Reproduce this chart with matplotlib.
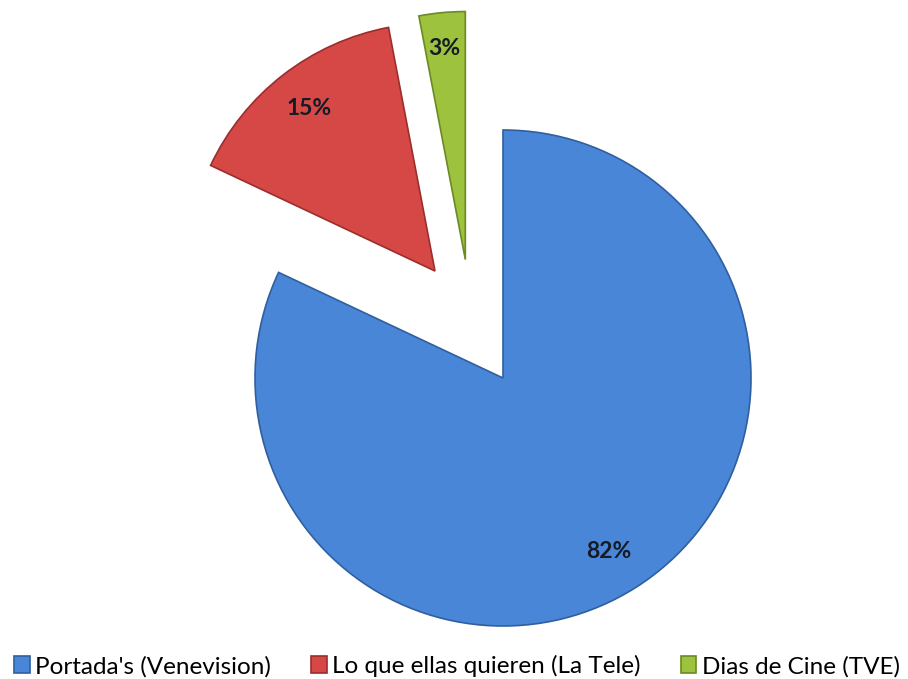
import numpy as np
import matplotlib.pyplot as plt

# datos del grafico
programas = ["Portada's (Venevision)", "Lo que ellas quieren (La Tele)", "Dias de Cine (TVE)"]
porcentajes = [82, 15, 3]

# estilo
separacion = [0.0, 0.5, 0.5]
ajuste_px = [(0, 0), (8, 9), (-26, -5)]   # pequeno ajuste de la separacion (px)
colores = ["#4a86d8", "#d64845", "#9dc23e"]
bordes = ["#2f5f9e", "#9a2e2c", "#6a8a24"]
plt.rcParams['font.family'] = ['Lato', 'DejaVu Sans']

fig = plt.figure(figsize=(9.08, 6.79), dpi=100)
ax = fig.add_axes([0, 0, 1, 1])

wedges, texts, autotexts = ax.pie(porcentajes, explode=separacion, colors=colores,
                                  startangle=90, counterclock=False,
                                  autopct='%d%%', pctdistance=0.83,
                                  wedgeprops=dict(linewidth=1.2),
                                  textprops=dict(fontsize=16.5, fontweight='bold', color='#141a26'))

# radio de 248 px, centro en (503, 378)
R = 248.0
for w, t, b, (dx, dy) in zip(wedges, autotexts, bordes, ajuste_px):
    w.set_edgecolor(b)
    cx, cy = w.center
    w.set_center((cx + dx / R, cy + dy / R))
    tx, ty = t.get_position()
    t.set_position((tx + dx / R, ty + dy / R))
# 3% un poco mas arriba, 82% un poco a la izquierda
autotexts[2].set_position((autotexts[2].get_position()[0] - 2 / R, autotexts[2].get_position()[1] + 6 / R))
autotexts[0].set_position((autotexts[0].get_position()[0] - 5 / R, autotexts[0].get_position()[1]))

ax.set_xlim(-503 / R, (908 - 503) / R)
ax.set_ylim(-(679 - 378) / R, 378 / R)
ax.set_aspect('auto')
ax.axis('off')

leg = fig.legend(wedges, programas, loc='center', bbox_to_anchor=(0.503, 0.019), ncol=3,
                 frameon=False, fontsize=17.5, handlelength=0.65, handleheight=0.65,
                 handletextpad=0.22, columnspacing=1.65)

fig.savefig("out.png", dpi=100)
